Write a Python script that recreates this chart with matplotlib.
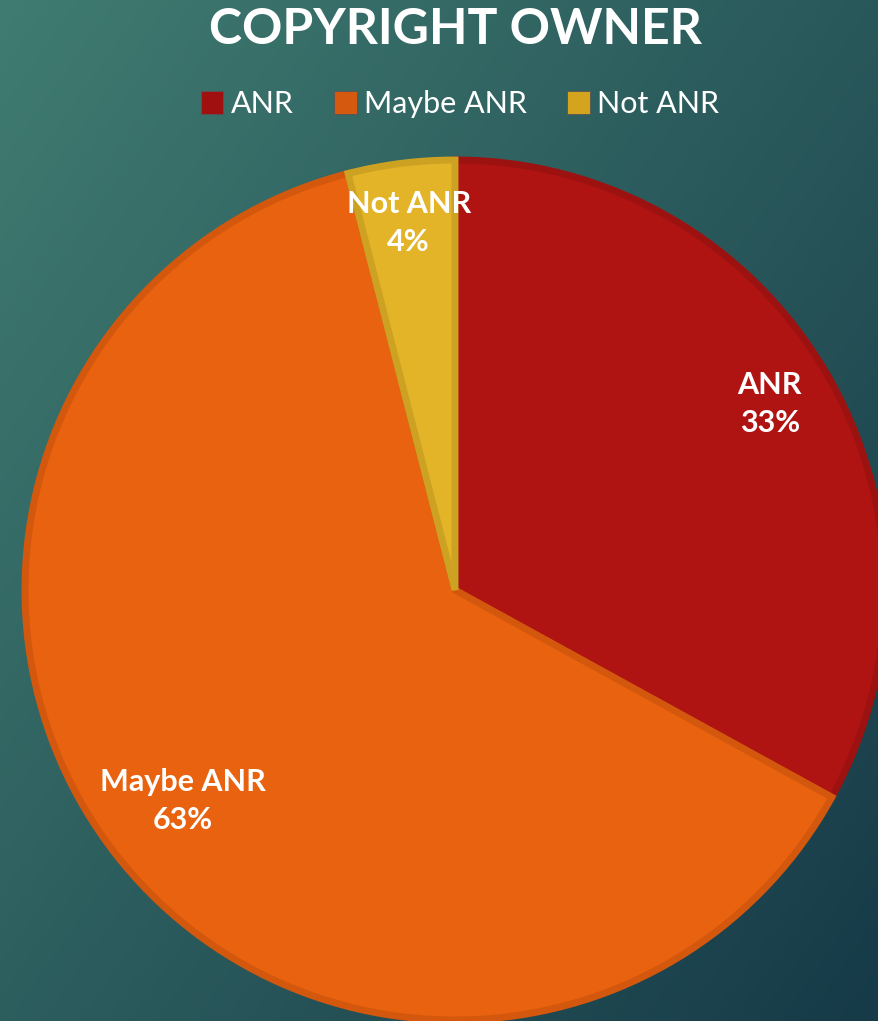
import numpy as np
import matplotlib.pyplot as plt
from matplotlib.patches import Patch

# data
labels = ['ANR', 'Maybe ANR', 'Not ANR']
shares = [33, 63, 4]
colors = ['#b01412', '#e8620f', '#e3b428']
edge_colors = ['#9c1210', '#d3580d', '#cda222']
legend_colors = ['#a01010', '#d55a10', '#d4a41e']
label_dist = [0.85, 0.80, 0.86]

fig = plt.figure(figsize=(8.79, 10.21), dpi=100)

# diagonal teal gradient background
bg = fig.add_axes([0, 0, 1, 1])
gx, gy = np.meshgrid(np.linspace(0, 1, 300), np.linspace(0, 1, 300))
t = np.clip(0.55 * gx + 0.45 * gy, 0, 1)[..., None]
c_light = np.array([64, 124, 113]) / 255
c_dark = np.array([22, 58, 72]) / 255
bg.imshow(c_light * (1 - t) + c_dark * t, extent=[0, 1, 0, 1], aspect='auto')
bg.axis('off')

# pie axes: center (455, 590) px, radius ~430 px
W, H = 879, 1021
cx, cy, r = 455, 590, 430
ax = fig.add_axes([(cx - r) / W, (H - cy - r) / H, 2 * r / W, 2 * r / H])

lab_iter = iter(labels)
wedges, texts, autotexts = ax.pie(
    shares, colors=colors, startangle=90, counterclock=False,
    autopct=lambda p: f'{next(lab_iter)}\n{p:.0f}%', pctdistance=0.84,
    wedgeprops=dict(linewidth=5, joinstyle='miter'),
    textprops=dict(color='white', fontsize=22, fontweight='bold', family=['Lato', 'DejaVu Sans'],
                   linespacing=1.45))
for w, ec, at, d in zip(wedges, edge_colors, autotexts, label_dist):
    w.set_edgecolor(ec)
    w.set_clip_on(False)
    mid = np.deg2rad((w.theta1 + w.theta2) / 2)
    at.set_position((d * np.cos(mid), d * np.sin(mid)))
ax.set_xlim(-1, 1)
ax.set_ylim(-1, 1)
ax.axis('off')

fig.text(455 / W, 1 - 29 / H, 'COPYRIGHT OWNER', ha='center', va='center', color='white',
         fontsize=36, fontweight='bold', family=['Lato', 'DejaVu Sans'])

handles = [Patch(facecolor=c, edgecolor='#555555', linewidth=0.6) for c in legend_colors]
leg = fig.legend(handles, labels, loc='center', bbox_to_anchor=(460 / W, 1 - 104 / H), ncol=3,
                 frameon=False, handlelength=0.75, handleheight=0.75, handletextpad=0.25,
                 columnspacing=1.3, prop=dict(family=['Lato', 'DejaVu Sans'], weight='normal', size=22))
for txt in leg.get_texts():
    txt.set_color('white')

fig.savefig('out.png', dpi=100)
